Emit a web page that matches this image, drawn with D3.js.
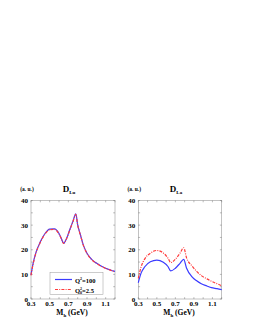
<!DOCTYPE html>
<html>
<head>
<meta charset="utf-8">
<script src="https://cdn.jsdelivr.net/npm/d3@7"></script>
<style>
body { margin:0; background:#fff; }
svg text { font-family: "Liberation Serif", "DejaVu Serif", serif; font-weight: bold; fill:#000; }
</style>
</head>
<body>
<svg id="chart" width="253" height="327"></svg>
<script>
// left panel (D_Lu), both evolutions nearly coincide
var xLu = [0.30,0.32,0.35,0.40,0.45,0.50,0.55,0.60,0.625,0.65,0.68,0.72,0.75,0.78,0.80,0.83,0.86,0.90,0.95,1.00,1.05,1.10,1.15,1.20];
var luQ100 = [9.8,14,18.5,23.2,26.6,28.4,28.5,26.6,24.6,22.6,24.5,28.6,31.6,34.6,30.2,26,22,18.6,16.1,14.6,13.4,12.5,11.8,11.2];
var luQ0 = [9.6,13.8,18.3,23,26.4,28.1,28.3,26.4,24.5,22.6,24.4,28.5,31.5,34.4,30,25.9,21.9,18.5,16,14.5,13.3,12.4,11.7,11.1];

// right panel (D_La)
var xLa = [0.30,0.33,0.37,0.43,0.50,0.57,0.62,0.65,0.70,0.75,0.79,0.82,0.88,0.93,0.98,1.04,1.09,1.15,1.20];
var laQ100 = [6.6,10.5,13.1,15.1,15.8,14.9,13.2,11.4,12.5,14.5,16.1,12.6,9.0,7.4,6.2,5.3,4.6,4.2,3.8];
var laQ0 = [8.4,13,16.3,18.6,19.7,18.7,16.6,14.8,16.2,18.6,20.8,16.8,13.4,11.2,9.5,8.2,7.2,6.2,5.4];

var xTicks = [0.3,0.5,0.7,0.9,1.1];
var yTicks = [0,10,20,30,40];
var legendLabels = ["Q²=100","Q₀²=2.5"];

var svg = d3.select("#chart");
var blue = "#3b3bff", red = "#ff3b3b";

function panel(x0, x1, title, sub, xs, s1, s2, legend) {
  var x = d3.scaleLinear().domain([0.3,1.2]).range([x0,x1]);
  var y = d3.scaleLinear().domain([0,40]).range([299,200.5]);
  var g = svg.append("g");

  g.append("rect").attr("x",x0).attr("y",y(40)).attr("width",x1-x0).attr("height",y(0)-y(40))
    .attr("fill","none").attr("stroke","#999").attr("stroke-width",0.6);

  var minorX = d3.range(0.3,1.201,0.1);
  minorX.forEach(function(v){
    g.append("line").attr("x1",x(v)).attr("x2",x(v)).attr("y1",y(0)).attr("y2",y(0)-1.8).attr("stroke","#777").attr("stroke-width",0.5);
    g.append("line").attr("x1",x(v)).attr("x2",x(v)).attr("y1",y(40)).attr("y2",y(40)+1.8).attr("stroke","#777").attr("stroke-width",0.5);
  });
  d3.range(0,40.1,5).forEach(function(v){
    g.append("line").attr("x1",x0).attr("x2",x0+1.8).attr("y1",y(v)).attr("y2",y(v)).attr("stroke","#777").attr("stroke-width",0.5);
    g.append("line").attr("x1",x1).attr("x2",x1-1.8).attr("y1",y(v)).attr("y2",y(v)).attr("stroke","#777").attr("stroke-width",0.5);
  });

  g.selectAll(".xt").data(xTicks).enter().append("text")
    .attr("x",function(d){return x(d);}).attr("y",306)
    .attr("text-anchor","middle").style("font-size","7px")
    .text(function(d){return d3.format(".1f")(d);});
  g.selectAll(".yt").data(yTicks).enter().append("text")
    .attr("x",x0-3).attr("y",function(d){return y(d)+2.5;})
    .attr("text-anchor","end").style("font-size","7px")
    .text(function(d){return d;});

  var line = d3.line().x(function(d,i){return x(xs[i]);}).y(function(d){return y(d);}).curve(d3.curveMonotoneX);
  g.append("path").datum(s1).attr("d",line).attr("fill","none").attr("stroke",blue).attr("stroke-width",1.2);
  g.append("path").datum(s2).attr("d",line).attr("fill","none").attr("stroke",red).attr("stroke-width",1.2)
    .attr("stroke-dasharray","3,1.2,1,1.2");

  g.append("text").attr("x",x0-4).attr("y",190.5).attr("text-anchor","middle").style("font-size","5.5px").text("(a. u.)");
  var t = g.append("text").attr("x",(x0+x1)/2-4).attr("y",192).attr("text-anchor","middle").style("font-size","9px");
  t.append("tspan").text(title);
  t.append("tspan").attr("dy",1.5).style("font-size","5px").text(sub);

  var xl = g.append("text").attr("x",(x0+x1)/2-1).attr("y",315).attr("text-anchor","middle").style("font-size","7.5px");
  xl.append("tspan").text("M");
  xl.append("tspan").attr("dy",1.5).style("font-size","5px").text("h");
  xl.append("tspan").attr("dy",-1.5).text(" (GeV)");

  if (legend) {
    g.append("rect").attr("x",50).attr("y",272.5).attr("width",53).attr("height",22)
      .attr("fill","#fff").attr("stroke","#999").attr("stroke-width",0.5);
    g.append("line").attr("x1",55).attr("x2",72).attr("y1",279.5).attr("y2",279.5).attr("stroke",blue).attr("stroke-width",1.2);
    g.append("line").attr("x1",55).attr("x2",72).attr("y1",289.5).attr("y2",289.5).attr("stroke",red).attr("stroke-width",1.2)
      .attr("stroke-dasharray","3,1.2,1,1.2");
    var l1 = g.append("text").attr("x",75).attr("y",282.5).style("font-size","6.5px");
    l1.append("tspan").text("Q");
    l1.append("tspan").attr("dy",-2.5).style("font-size","4px").text("2");
    l1.append("tspan").attr("dy",2.5).text("=100");
    var l2 = g.append("text").attr("x",75).attr("y",292.5).style("font-size","6.5px");
    l2.append("tspan").text("Q");
    l2.append("tspan").attr("dy",1.5).style("font-size","4px").text("0");
    l2.append("tspan").attr("dy",-4.5).attr("dx",-2).style("font-size","4px").text("2");
    l2.append("tspan").attr("dy",3).text("=2.5");
  }
}

panel(31, 115, "D", "Lu", xLu, luQ100, luQ0, true);
panel(138.3, 221.7, "D", "La", xLa, laQ100, laQ0, false);
</script>
</body>
</html>
